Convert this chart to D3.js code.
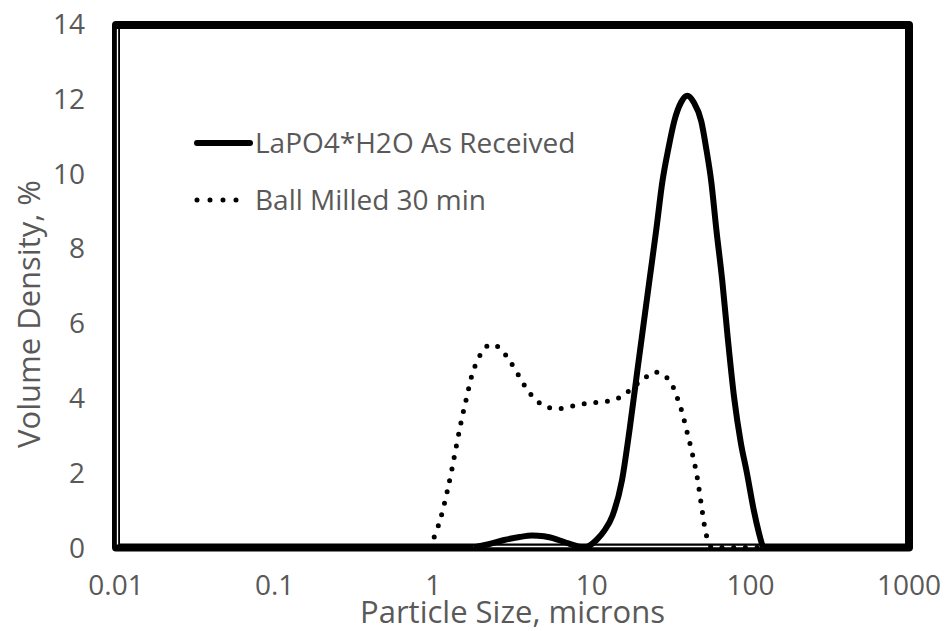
<!DOCTYPE html>
<html>
<head>
<meta charset="utf-8">
<script src="https://cdn.jsdelivr.net/npm/d3@7"></script>
<style>
  body { margin: 0; background: #fff; }
  text { font-family: "Open Sans", "Noto Sans", sans-serif; fill: #595959; }
</style>
</head>
<body>
<div id="chart-area"></div>
<script>
// DATA

// LaPO4*H2O As Received (solid)
let receivedSize = [1.8, 2.2, 2.8, 3.5, 4.2, 5.0, 6.0, 7.0, 8.0, 9.0, 10.7, 12, 13.5, 15.5, 17.3, 19.4, 21.4, 23.1, 25.5, 27.9, 30.5, 33.1, 36.5, 40, 44, 49, 53, 56.6, 61, 66.4, 72, 79, 87, 95, 105, 113, 120];
let receivedDensity = [0, 0.08, 0.2, 0.28, 0.32, 0.3, 0.22, 0.12, 0.04, 0, 0.2, 0.45, 0.85, 1.8, 3.15, 4.75, 6.1, 7.15, 8.5, 9.8, 10.7, 11.4, 11.9, 12.08, 11.9, 11.4, 10.6, 9.8, 8.5, 7.15, 5.6, 4.0, 2.8, 2.0, 1.0, 0.4, 0];

// Ball Milled 30 min (dotted)
let milledSize = [0.95, 1.12, 1.22, 1.31, 1.40, 1.50, 1.62, 1.76, 1.90, 2.05, 2.3, 2.6, 2.95, 3.3, 3.9, 4.4, 5.0, 6.0, 7.0, 8.35, 10.0, 11.8, 14.1, 16.4, 19, 21.4, 25.0, 29.0, 32.3, 34.4, 36.5, 39.8, 43.2, 46.4, 49, 52, 55, 57, 80, 120];
let milledDensity = [0, 0.82, 1.46, 2.08, 2.72, 3.36, 3.99, 4.63, 5.0, 5.25, 5.43, 5.35, 5.07, 4.75, 4.23, 3.97, 3.79, 3.71, 3.75, 3.82, 3.87, 3.9, 3.96, 4.12, 4.35, 4.52, 4.69, 4.58, 4.33, 4.03, 3.72, 3.1, 2.48, 1.83, 1.15, 0.45, 0.1, 0, 0, 0];

let xTicks = [0.01, 0.1, 1, 10, 100, 1000];
let xTickLabels = ["0.01", "0.1", "1", "10", "100", "1000"];
let yTicks = [0, 2, 4, 6, 8, 10, 12, 14];
let seriesNames = ["LaPO4*H2O As Received", "Ball Milled 30 min"];

// CHART AREA

let width = 946, height = 631;
let plot = { left: 116, right: 909, top: 24, bottom: 547.5 };

let svg = d3.select("#chart-area")
  .append("svg")
  .attr("width", width)
  .attr("height", height);

let x = d3.scaleLog().domain([0.01, 1000]).range([plot.left, plot.right]);
let y = d3.scaleLinear().domain([0, 14]).range([plot.bottom, plot.top]);

// FRAME
svg.append("rect")
  .attr("x", plot.left)
  .attr("y", y(14) + 1)
  .attr("width", plot.right - plot.left)
  .attr("height", plot.bottom - y(14) - 1)
  .attr("fill", "none")
  .attr("stroke", "#000")
  .attr("stroke-width", 8)
  .attr("stroke-linejoin", "round");

// thin light seams inside the left and bottom edges
svg.append("line")
  .attr("x1", plot.left + 1.5).attr("x2", plot.left + 1.5)
  .attr("y1", y(14) + 5).attr("y2", plot.bottom - 3)
  .attr("stroke", "#fff").attr("stroke-width", 1.3);
svg.append("line")
  .attr("x1", x(1.8)).attr("x2", x(120))
  .attr("y1", plot.bottom - 1).attr("y2", plot.bottom - 1)
  .attr("stroke", "#fff").attr("stroke-width", 1.3);

// AXIS LABELS
svg.selectAll(".y-tick")
  .data(yTicks)
  .enter()
  .append("text")
  .attr("class", "y-tick")
  .attr("x", 85)
  .attr("y", d => y(d))
  .attr("dy", "0.36em")
  .style("text-anchor", "end")
  .style("font-size", "28px")
  .text(d => d);

svg.selectAll(".x-tick")
  .data(xTicks)
  .enter()
  .append("text")
  .attr("class", "x-tick")
  .attr("x", d => x(d))
  .attr("y", 595)
  .style("text-anchor", "middle")
  .style("font-size", "28px")
  .text((d, i) => xTickLabels[i]);

svg.append("text")
  .attr("x", (plot.left + plot.right) / 2)
  .attr("y", 623)
  .style("text-anchor", "middle")
  .style("font-size", "31px")
  .text("Particle Size, microns");

svg.append("text")
  .attr("transform", "translate(40," + 314 + ") rotate(-90)")
  .style("text-anchor", "middle")
  .style("font-size", "31px")
  .text("Volume Density, %");

// SERIES
let line = d3.line()
  .x(d => x(d[0]))
  .y(d => y(d[1]))
  .curve(d3.curveMonotoneX);

let milled = milledSize.map((s, i) => [s, milledDensity[i]]);
let received = receivedSize.map((s, i) => [s, receivedDensity[i]]);

svg.append("path")
  .datum(milled)
  .attr("d", line)
  .attr("fill", "none")
  .attr("stroke", "#000")
  .attr("stroke-width", 5)
  .attr("stroke-linecap", "round")
  .attr("stroke-dasharray", "0 11.7");

svg.append("path")
  .datum(received)
  .attr("d", line)
  .attr("fill", "none")
  .attr("stroke", "#000")
  .attr("stroke-width", 6)
  .attr("stroke-linejoin", "round");

// LEGEND
let legend = svg.append("g").attr("class", "legend");

legend.append("line")
  .attr("x1", 197).attr("x2", 250)
  .attr("y1", 143).attr("y2", 143)
  .attr("stroke", "#000")
  .attr("stroke-width", 6)
  .attr("stroke-linecap", "round");

legend.append("line")
  .attr("x1", 197).attr("x2", 249)
  .attr("y1", 200).attr("y2", 200)
  .attr("stroke", "#000")
  .attr("stroke-width", 5)
  .attr("stroke-linecap", "round")
  .attr("stroke-dasharray", "0 13");

legend.selectAll(".legend-label")
  .data(seriesNames)
  .enter()
  .append("text")
  .attr("class", "legend-label")
  .attr("x", 255)
  .attr("y", (d, i) => 153 + i * 57)
  .style("font-size", "28px")
  .text(d => d);
</script>
</body>
</html>
